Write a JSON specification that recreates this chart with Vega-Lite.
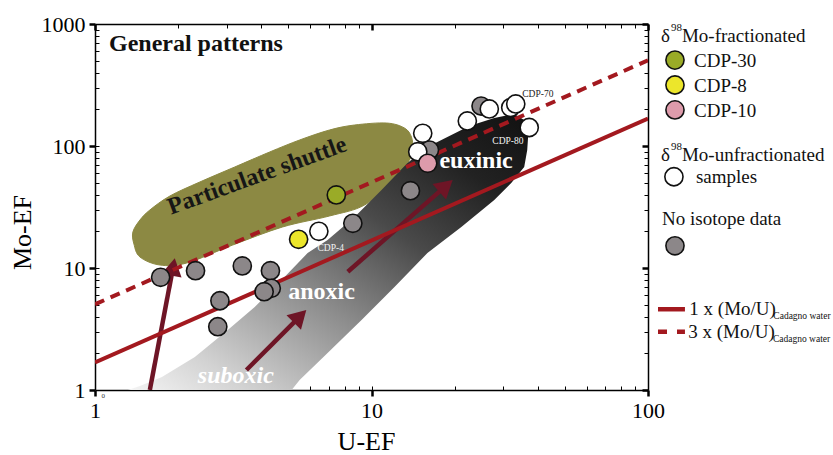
{
  "$schema": "https://vega.github.io/schema/vega-lite/v6.json",
  "width": 553,
  "height": 366,
  "autosize": {"type": "none"},
  "padding": {"left": 95, "top": 24, "right": 185, "bottom": 65},
  "background": "white",
  "config": {
    "view": {"stroke": null},
    "axis": {
      "grid": false, "domainColor": "#000", "domainWidth": 1.5, "tickColor": "#000",
      "labelFont": "Liberation Serif", "labelFontSize": 22, "labelColor": "#000",
      "titleFont": "Liberation Serif", "titleFontSize": 26, "titleFontWeight": "normal", "titleColor": "#000",
      "labelFlush": false, "labelOverlap": false, "labelBound": false
    },
    "text": {"font": "Liberation Serif"}
  },
  "datasets": {
    "points": [
      {"u": 1.727, "mo": 8.39, "group": "none"},
      {"u": 2.31, "mo": 9.5, "group": "none"},
      {"u": 3.41, "mo": 10.4, "group": "none"},
      {"u": 4.31, "mo": 9.5, "group": "none"},
      {"u": 2.83, "mo": 5.39, "group": "none"},
      {"u": 2.78, "mo": 3.30, "group": "none"},
      {"u": 4.34, "mo": 6.82, "group": "none"},
      {"u": 4.09, "mo": 6.39, "group": "none"},
      {"u": 8.56, "mo": 23.25, "group": "none"},
      {"u": 13.83, "mo": 43.0, "group": "none"},
      {"u": 16.2, "mo": 92.7, "group": "none"},
      {"u": 24.9, "mo": 212.7, "group": "none"},
      {"u": 6.45, "mo": 20.0, "group": "unfractionated"},
      {"u": 15.32, "mo": 127.1, "group": "unfractionated"},
      {"u": 14.70, "mo": 89.8, "group": "unfractionated"},
      {"u": 22.21, "mo": 160.3, "group": "unfractionated"},
      {"u": 26.67, "mo": 201.1, "group": "unfractionated"},
      {"u": 31.88, "mo": 206.8, "group": "unfractionated"},
      {"u": 33.24, "mo": 221.0, "group": "unfractionated"},
      {"u": 37.19, "mo": 141.8, "group": "unfractionated"},
      {"u": 7.46, "mo": 39.7, "group": "CDP-30"},
      {"u": 5.45, "mo": 17.19, "group": "CDP-8"},
      {"u": 15.97, "mo": 72.1, "group": "CDP-10"}
    ],
    "olive": [
      {"i": 0, "u": 1.383, "mo": 15.73}, {"i": 1, "u": 1.371, "mo": 19.73},
      {"i": 2, "u": 1.454, "mo": 24.74}, {"i": 3, "u": 1.579, "mo": 29.88},
      {"i": 4, "u": 1.866, "mo": 38.93}, {"i": 5, "u": 2.394, "mo": 50.69},
      {"i": 6, "u": 3.202, "mo": 67.29}, {"i": 7, "u": 4.282, "mo": 89.29},
      {"i": 8, "u": 5.497, "mo": 112.0}, {"i": 9, "u": 7.053, "mo": 135.3},
      {"i": 10, "u": 8.684, "mo": 148.6}, {"i": 11, "u": 11.33, "mo": 154.3},
      {"i": 12, "u": 13.16, "mo": 140.4}, {"i": 13, "u": 13.95, "mo": 118.5},
      {"i": 14, "u": 14.06, "mo": 96.3}, {"i": 15, "u": 13.71, "mo": 76.8},
      {"i": 16, "u": 12.11, "mo": 52.6}, {"i": 17, "u": 9.434, "mo": 32.8},
      {"i": 18, "u": 7.053, "mo": 26.7}, {"i": 19, "u": 4.771, "mo": 21.7},
      {"i": 20, "u": 3.149, "mo": 15.43}, {"i": 21, "u": 2.148, "mo": 10.99},
      {"i": 22, "u": 1.717, "mo": 10.58}, {"i": 23, "u": 1.454, "mo": 12.31}
    ],
    "band": [
      {"i": 0, "u": 1.315, "mo": 1}, {"i": 1, "u": 1.454, "mo": 1.078},
      {"i": 2, "u": 1.746, "mo": 1.278}, {"i": 3, "u": 2.296, "mo": 1.865},
      {"i": 4, "u": 3.021, "mo": 3.103}, {"i": 5, "u": 3.781, "mo": 4.789},
      {"i": 6, "u": 4.732, "mo": 7.973}, {"i": 7, "u": 5.874, "mo": 13.27},
      {"i": 8, "u": 6.937, "mo": 16.96}, {"i": 9, "u": 8.684, "mo": 26.18},
      {"i": 10, "u": 10.87, "mo": 43.6}, {"i": 11, "u": 13.49, "mo": 72.55},
      {"i": 12, "u": 15.93, "mo": 98.1}, {"i": 13, "u": 18.81, "mo": 118.5},
      {"i": 14, "u": 22.58, "mo": 145.9}, {"i": 15, "u": 27.8, "mo": 169.6},
      {"i": 16, "u": 32.83, "mo": 182.9}, {"i": 17, "u": 35.67, "mo": 163.4},
      {"i": 18, "u": 36.88, "mo": 123.1}, {"i": 19, "u": 36.58, "mo": 92.7},
      {"i": 20, "u": 35.67, "mo": 67.3}, {"i": 21, "u": 32.02, "mo": 49.7},
      {"i": 22, "u": 27.8, "mo": 36.1}, {"i": 23, "u": 21.13, "mo": 21.7},
      {"i": 24, "u": 15.93, "mo": 13.27}, {"i": 25, "u": 12.11, "mo": 6.99},
      {"i": 26, "u": 9.204, "mo": 3.748}, {"i": 27, "u": 6.937, "mo": 2.011},
      {"i": 28, "u": 5.497, "mo": 1.208}, {"i": 29, "u": 5.142, "mo": 1}
    ],
    "refs": [
      {"k": "1x", "u": 1, "mo": 1.68}, {"k": "1x", "u": 100, "mo": 168},
      {"k": "3x", "u": 1, "mo": 5.04}, {"k": "3x", "u": 100, "mo": 504}
    ],
    "arrows": [
      {"a": 1, "i": 0, "u": 1.579, "mo": 1}, {"a": 1, "i": 1, "u": 1.917, "mo": 10.19},
      {"a": 2, "i": 0, "u": 3.529, "mo": 1.458}, {"a": 2, "i": 1, "u": 5.514, "mo": 4.019},
      {"a": 3, "i": 0, "u": 8.21, "mo": 9.326}, {"a": 3, "i": 1, "u": 18.59, "mo": 47.1}
    ],
    "heads": [
      {"a": 1, "u": 1.917, "mo": 10.19},
      {"a": 2, "u": 5.514, "mo": 4.019},
      {"a": 3, "u": 18.59, "mo": 47.1}
    ],
    "notes": [
      {"u": 1.1235, "mo": 600.6, "t": "General patterns", "k": "head"},
      {"u": 3.942, "mo": 50.2, "t": "Particulate shuttle", "k": "shuttle"},
      {"u": 17.6, "mo": 66.0, "t": "euxinic", "k": "zone"},
      {"u": 4.995, "mo": 5.57, "t": "anoxic", "k": "zone"},
      {"u": 2.354, "mo": 1.141, "t": "suboxic", "k": "zoneit"},
      {"u": 6.38, "mo": 13.78, "t": "CDP-4", "k": "small"},
      {"u": 27.35, "mo": 104.8, "t": "CDP-80", "k": "small"},
      {"u": 35.1, "mo": 254.5, "t": "CDP-70", "k": "smalldark"},
      {"u": 1.055, "mo": 0.86, "t": "0", "k": "tiny"}
    ],
    "legend": [
      {"k": "text", "lx": 0.17, "ly": 0.725, "t": "δ"},
      {"k": "sup", "lx": 0.74, "ly": 0.27, "t": "98"},
      {"k": "text", "lx": 1.37, "ly": 0.725, "t": "Mo-fractionated"},
      {"k": "sym", "lx": 0.97, "ly": 1.48, "group": "CDP-30"},
      {"k": "sym", "lx": 0.97, "ly": 2.50, "group": "CDP-8"},
      {"k": "sym", "lx": 0.97, "ly": 3.52, "group": "CDP-10"},
      {"k": "text", "lx": 2.06, "ly": 1.75, "t": "CDP-30"},
      {"k": "text", "lx": 2.06, "ly": 2.77, "t": "CDP-8"},
      {"k": "text", "lx": 2.06, "ly": 3.80, "t": "CDP-10"},
      {"k": "text", "lx": 0.17, "ly": 5.61, "t": "δ"},
      {"k": "sup", "lx": 0.74, "ly": 5.16, "t": "98"},
      {"k": "text", "lx": 1.37, "ly": 5.61, "t": "Mo-unfractionated"},
      {"k": "sym", "lx": 0.91, "ly": 6.26, "group": "unfractionated"},
      {"k": "text", "lx": 2.17, "ly": 6.50, "t": "samples"},
      {"k": "text", "lx": 0.23, "ly": 8.24, "t": "No isotope data"},
      {"k": "sym", "lx": 0.97, "ly": 9.09, "group": "none"},
      {"k": "line1", "lx": 0, "lx2": 1.54, "ly": 11.69},
      {"k": "line3", "lx": 0, "lx2": 1.54, "ly": 12.61},
      {"k": "text", "lx": 1.79, "ly": 11.93, "t": "1 x (Mo/U)"},
      {"k": "sub", "lx": 6.59, "ly": 12.11, "t": "Cadagno water"},
      {"k": "text", "lx": 1.73, "ly": 12.88, "t": "3 x (Mo/U)"},
      {"k": "sub", "lx": 6.57, "ly": 13.02, "t": "Cadagno water"}
    ]
  },
  "layer": [
    {
      "layer": [
        {
          "data": {"name": "olive"},
          "mark": {"type": "line", "interpolate": "cardinal-closed", "fill": "#8c8943", "stroke": "#8c8943", "strokeWidth": 1, "clip": true},
          "encoding": {
            "x": {"field": "u", "type": "quantitative", "scale": {"type": "log", "domain": [1, 100], "nice": false},
              "axis": {"orient": "bottom", "values": [1, 10, 100], "tickSize": 6, "tickWidth": 2.5, "labelPadding": 21, "labelBaseline": "alphabetic", "labelExpr": "datum.value + ''", "title": "U-EF", "titleX": 271, "titleY": 59, "titleBaseline": "alphabetic", "titleAlign": "center"}},
            "y": {"field": "mo", "type": "quantitative", "scale": {"type": "log", "domain": [1, 1000], "nice": false},
              "axis": {"orient": "left", "values": [1, 10, 100, 1000], "tickSize": 6, "tickWidth": 2.5, "labelPadding": 4, "labelExpr": "datum.value + ''", "title": "Mo-EF", "titleAngle": 270, "titleX": -65, "titleY": 208, "titleAlign": "center", "titleBaseline": "alphabetic"}},
            "order": {"field": "i", "type": "quantitative"}
          }
        },
        {
          "data": {"name": "band"},
          "mark": {"type": "line", "interpolate": "linear-closed", "strokeOpacity": 0, "clip": true,
            "fill": {"gradient": "linear", "x1": 0, "y1": 1, "x2": 1, "y2": 0,
              "stops": [
                {"offset": 0, "color": "#f4f4f4"},
                {"offset": 0.15, "color": "#d2d2d2"},
                {"offset": 0.4, "color": "#8c8c8c"},
                {"offset": 0.62, "color": "#4a4a4a"},
                {"offset": 0.82, "color": "#222222"},
                {"offset": 1, "color": "#111111"}
              ]}},
          "encoding": {
            "x": {"field": "u", "type": "quantitative", "scale": {"type": "log", "domain": [1, 100], "nice": false},
              "axis": {"orient": "bottom", "values": [2, 3, 4, 5, 6, 7, 8, 9, 10, 20, 30, 40, 50, 60, 70, 80, 90], "tickSize": -4, "tickWidth": 1, "labels": false, "domain": false, "title": null}},
            "y": {"field": "mo", "type": "quantitative", "scale": {"type": "log", "domain": [1, 1000], "nice": false},
              "axis": {"orient": "left", "values": [2, 3, 4, 5, 6, 7, 8, 9, 10, 20, 30, 40, 50, 60, 70, 80, 90, 100, 200, 300, 400, 500, 600, 700, 800, 900], "tickSize": -4, "tickWidth": 1, "labels": false, "domain": false, "title": null}},
            "order": {"field": "i", "type": "quantitative"}
          }
        },
        {
          "data": {"name": "arrows"},
          "mark": {"type": "line", "color": "#6e1526", "strokeWidth": 4.5, "strokeCap": "butt", "clip": true},
          "encoding": {
            "x": {"field": "u", "type": "quantitative", "scale": {"type": "log", "domain": [1, 100], "nice": false}, "axis": null},
            "y": {"field": "mo", "type": "quantitative", "scale": {"type": "log", "domain": [1, 1000], "nice": false}, "axis": null},
            "detail": {"field": "a", "type": "nominal"},
            "order": {"field": "i", "type": "quantitative"}
          }
        },
        {
          "data": {"name": "heads"},
          "transform": [{"filter": "datum.a == 1"}],
          "mark": {"type": "point", "shape": "triangle-up", "filled": true, "size": 420, "angle": 10.7, "color": "#6e1526", "opacity": 1},
          "encoding": {
            "x": {"field": "u", "type": "quantitative", "scale": {"type": "log", "domain": [1, 100], "nice": false}, "axis": null},
            "y": {"field": "mo", "type": "quantitative", "scale": {"type": "log", "domain": [1, 1000], "nice": false}, "axis": null}
          }
        },
        {
          "data": {"name": "heads"},
          "transform": [{"filter": "datum.a == 2"}],
          "mark": {"type": "point", "shape": "triangle-up", "filled": true, "size": 420, "angle": 45, "color": "#6e1526", "opacity": 1},
          "encoding": {
            "x": {"field": "u", "type": "quantitative", "scale": {"type": "log", "domain": [1, 100], "nice": false}, "axis": null},
            "y": {"field": "mo", "type": "quantitative", "scale": {"type": "log", "domain": [1, 1000], "nice": false}, "axis": null}
          }
        },
        {
          "data": {"name": "heads"},
          "transform": [{"filter": "datum.a == 3"}],
          "mark": {"type": "point", "shape": "triangle-up", "filled": true, "size": 420, "angle": 48.9, "color": "#6e1526", "opacity": 1},
          "encoding": {
            "x": {"field": "u", "type": "quantitative", "scale": {"type": "log", "domain": [1, 100], "nice": false}, "axis": null},
            "y": {"field": "mo", "type": "quantitative", "scale": {"type": "log", "domain": [1, 1000], "nice": false}, "axis": null}
          }
        },
        {
          "data": {"name": "refs"},
          "transform": [{"filter": "datum.k == '1x'"}],
          "mark": {"type": "line", "color": "#a3191f", "strokeWidth": 4, "clip": true},
          "encoding": {
            "x": {"field": "u", "type": "quantitative", "scale": {"type": "log", "domain": [1, 100], "nice": false},
              "axis": {"orient": "top", "values": [2, 3, 4, 5, 6, 7, 8, 9, 20, 30, 40, 50, 60, 70, 80, 90], "tickSize": -4, "tickWidth": 1, "labels": false, "domain": true, "title": null}},
            "y": {"field": "mo", "type": "quantitative", "scale": {"type": "log", "domain": [1, 1000], "nice": false},
              "axis": {"orient": "right", "values": [2, 3, 4, 5, 6, 7, 8, 9, 20, 30, 40, 50, 60, 70, 80, 90, 200, 300, 400, 500, 600, 700, 800, 900], "tickSize": -4, "tickWidth": 1, "labels": false, "domain": true, "title": null}}
          }
        },
        {
          "data": {"name": "refs"},
          "transform": [{"filter": "datum.k == '3x'"}],
          "mark": {"type": "line", "color": "#a3191f", "strokeWidth": 4, "strokeDash": [10, 7], "clip": true},
          "encoding": {
            "x": {"field": "u", "type": "quantitative", "scale": {"type": "log", "domain": [1, 100], "nice": false},
              "axis": {"orient": "top", "values": [1, 10, 100], "tickSize": -6, "tickWidth": 2.5, "labels": false, "domain": false, "title": null}},
            "y": {"field": "mo", "type": "quantitative", "scale": {"type": "log", "domain": [1, 1000], "nice": false},
              "axis": {"orient": "right", "values": [1, 10, 100, 1000], "tickSize": -6, "tickWidth": 2.5, "labels": false, "domain": false, "title": null}}
          }
        },
        {
          "data": {"name": "points"},
          "mark": {"type": "point", "shape": "circle", "filled": true, "size": 330, "stroke": "#111", "strokeWidth": 1.6, "opacity": 1},
          "encoding": {
            "x": {"field": "u", "type": "quantitative", "scale": {"type": "log", "domain": [1, 100], "nice": false}, "axis": null},
            "y": {"field": "mo", "type": "quantitative", "scale": {"type": "log", "domain": [1, 1000], "nice": false}, "axis": null},
            "fill": {"field": "group", "type": "nominal", "legend": null,
              "scale": {"domain": ["none", "unfractionated", "CDP-30", "CDP-8", "CDP-10"], "range": ["#8c8789", "#ffffff", "#9aab27", "#ece62b", "#dd9bab"]}}
          }
        },
        {
          "data": {"name": "notes"},
          "transform": [{"filter": "datum.k == 'head'"}],
          "mark": {"type": "text", "font": "Liberation Serif", "fontSize": 24, "fontWeight": "bold", "color": "#111", "align": "left", "baseline": "alphabetic"},
          "encoding": {
            "x": {"field": "u", "type": "quantitative", "scale": {"type": "log", "domain": [1, 100], "nice": false}, "axis": null},
            "y": {"field": "mo", "type": "quantitative", "scale": {"type": "log", "domain": [1, 1000], "nice": false}, "axis": null},
            "text": {"field": "t"}
          }
        },
        {
          "data": {"name": "notes"},
          "transform": [{"filter": "datum.k == 'shuttle'"}],
          "mark": {"type": "text", "font": "Liberation Serif", "fontSize": 24, "fontWeight": "bold", "color": "#161616", "align": "center", "baseline": "alphabetic", "angle": 340},
          "encoding": {
            "x": {"field": "u", "type": "quantitative", "scale": {"type": "log", "domain": [1, 100], "nice": false}, "axis": null},
            "y": {"field": "mo", "type": "quantitative", "scale": {"type": "log", "domain": [1, 1000], "nice": false}, "axis": null},
            "text": {"field": "t"}
          }
        },
        {
          "data": {"name": "notes"},
          "transform": [{"filter": "datum.k == 'zone'"}],
          "mark": {"type": "text", "font": "Liberation Serif", "fontSize": 24, "fontWeight": "bold", "color": "#ffffff", "align": "left", "baseline": "alphabetic"},
          "encoding": {
            "x": {"field": "u", "type": "quantitative", "scale": {"type": "log", "domain": [1, 100], "nice": false}, "axis": null},
            "y": {"field": "mo", "type": "quantitative", "scale": {"type": "log", "domain": [1, 1000], "nice": false}, "axis": null},
            "text": {"field": "t"}
          }
        },
        {
          "data": {"name": "notes"},
          "transform": [{"filter": "datum.k == 'zoneit'"}],
          "mark": {"type": "text", "font": "Liberation Serif", "fontSize": 24, "fontWeight": "bold", "fontStyle": "italic", "color": "#ffffff", "align": "left", "baseline": "alphabetic"},
          "encoding": {
            "x": {"field": "u", "type": "quantitative", "scale": {"type": "log", "domain": [1, 100], "nice": false}, "axis": null},
            "y": {"field": "mo", "type": "quantitative", "scale": {"type": "log", "domain": [1, 1000], "nice": false}, "axis": null},
            "text": {"field": "t"}
          }
        },
        {
          "data": {"name": "notes"},
          "transform": [{"filter": "datum.k == 'small'"}],
          "mark": {"type": "text", "font": "Liberation Serif", "fontSize": 9.5, "color": "#f2f2f2", "align": "left", "baseline": "alphabetic"},
          "encoding": {
            "x": {"field": "u", "type": "quantitative", "scale": {"type": "log", "domain": [1, 100], "nice": false}, "axis": null},
            "y": {"field": "mo", "type": "quantitative", "scale": {"type": "log", "domain": [1, 1000], "nice": false}, "axis": null},
            "text": {"field": "t"}
          }
        },
        {
          "data": {"name": "notes"},
          "transform": [{"filter": "datum.k == 'smalldark'"}],
          "mark": {"type": "text", "font": "Liberation Serif", "fontSize": 9.5, "color": "#222", "align": "left", "baseline": "alphabetic"},
          "encoding": {
            "x": {"field": "u", "type": "quantitative", "scale": {"type": "log", "domain": [1, 100], "nice": false}, "axis": null},
            "y": {"field": "mo", "type": "quantitative", "scale": {"type": "log", "domain": [1, 1000], "nice": false}, "axis": null},
            "text": {"field": "t"}
          }
        },
        {
          "data": {"name": "notes"},
          "transform": [{"filter": "datum.k == 'tiny'"}],
          "mark": {"type": "text", "font": "Liberation Serif", "fontSize": 7, "color": "#333", "align": "left", "baseline": "alphabetic"},
          "encoding": {
            "x": {"field": "u", "type": "quantitative", "scale": {"type": "log", "domain": [1, 100], "nice": false}, "axis": null},
            "y": {"field": "mo", "type": "quantitative", "scale": {"type": "log", "domain": [1, 1000], "nice": false}, "axis": null},
            "text": {"field": "t"}
          }
        }
      ],
      "resolve": {"axis": {"x": "independent", "y": "independent"}}
    },
    {
      "layer": [
        {
          "data": {"name": "legend"},
          "transform": [{"filter": "datum.k == 'sym'"}],
          "mark": {"type": "point", "shape": "circle", "filled": true, "size": 330, "stroke": "#111", "strokeWidth": 1.6, "opacity": 1},
          "encoding": {
            "x": {"field": "lx", "type": "quantitative", "scale": {"domain": [0, 10], "range": [563, 738], "nice": false, "zero": false}, "axis": null},
            "y": {"field": "ly", "type": "quantitative", "scale": {"domain": [0, 15], "range": [0, 366], "nice": false, "zero": false}, "axis": null},
            "fill": {"field": "group", "type": "nominal", "legend": null,
              "scale": {"domain": ["none", "unfractionated", "CDP-30", "CDP-8", "CDP-10"], "range": ["#8c8789", "#ffffff", "#9aab27", "#ece62b", "#dd9bab"]}}
          }
        },
        {
          "data": {"name": "legend"},
          "transform": [{"filter": "datum.k == 'line1'"}],
          "mark": {"type": "rule", "color": "#a3191f", "strokeWidth": 4.5},
          "encoding": {
            "x": {"field": "lx", "type": "quantitative", "scale": {"domain": [0, 10], "range": [563, 738], "nice": false, "zero": false}, "axis": null},
            "x2": {"field": "lx2"},
            "y": {"field": "ly", "type": "quantitative", "scale": {"domain": [0, 15], "range": [0, 366], "nice": false, "zero": false}, "axis": null}
          }
        },
        {
          "data": {"name": "legend"},
          "transform": [{"filter": "datum.k == 'line3'"}],
          "mark": {"type": "rule", "color": "#a3191f", "strokeWidth": 4.5, "strokeDash": [9, 10]},
          "encoding": {
            "x": {"field": "lx", "type": "quantitative", "scale": {"domain": [0, 10], "range": [563, 738], "nice": false, "zero": false}, "axis": null},
            "x2": {"field": "lx2"},
            "y": {"field": "ly", "type": "quantitative", "scale": {"domain": [0, 15], "range": [0, 366], "nice": false, "zero": false}, "axis": null}
          }
        },
        {
          "data": {"name": "legend"},
          "transform": [{"filter": "datum.k == 'text'"}],
          "mark": {"type": "text", "font": "Liberation Serif", "fontSize": 19, "color": "#111", "align": "left", "baseline": "alphabetic"},
          "encoding": {
            "x": {"field": "lx", "type": "quantitative", "scale": {"domain": [0, 10], "range": [563, 738], "nice": false, "zero": false}, "axis": null},
            "y": {"field": "ly", "type": "quantitative", "scale": {"domain": [0, 15], "range": [0, 366], "nice": false, "zero": false}, "axis": null},
            "text": {"field": "t"}
          }
        },
        {
          "data": {"name": "legend"},
          "transform": [{"filter": "datum.k == 'sup'"}],
          "mark": {"type": "text", "font": "Liberation Serif", "fontSize": 11, "color": "#111", "align": "left", "baseline": "alphabetic"},
          "encoding": {
            "x": {"field": "lx", "type": "quantitative", "scale": {"domain": [0, 10], "range": [563, 738], "nice": false, "zero": false}, "axis": null},
            "y": {"field": "ly", "type": "quantitative", "scale": {"domain": [0, 15], "range": [0, 366], "nice": false, "zero": false}, "axis": null},
            "text": {"field": "t"}
          }
        },
        {
          "data": {"name": "legend"},
          "transform": [{"filter": "datum.k == 'sub'"}],
          "mark": {"type": "text", "font": "Liberation Serif", "fontSize": 9.5, "color": "#111", "align": "left", "baseline": "alphabetic"},
          "encoding": {
            "x": {"field": "lx", "type": "quantitative", "scale": {"domain": [0, 10], "range": [563, 738], "nice": false, "zero": false}, "axis": null},
            "y": {"field": "ly", "type": "quantitative", "scale": {"domain": [0, 15], "range": [0, 366], "nice": false, "zero": false}, "axis": null},
            "text": {"field": "t"}
          }
        }
      ]
    }
  ],
  "resolve": {"scale": {"x": "independent", "y": "independent"}}
}
